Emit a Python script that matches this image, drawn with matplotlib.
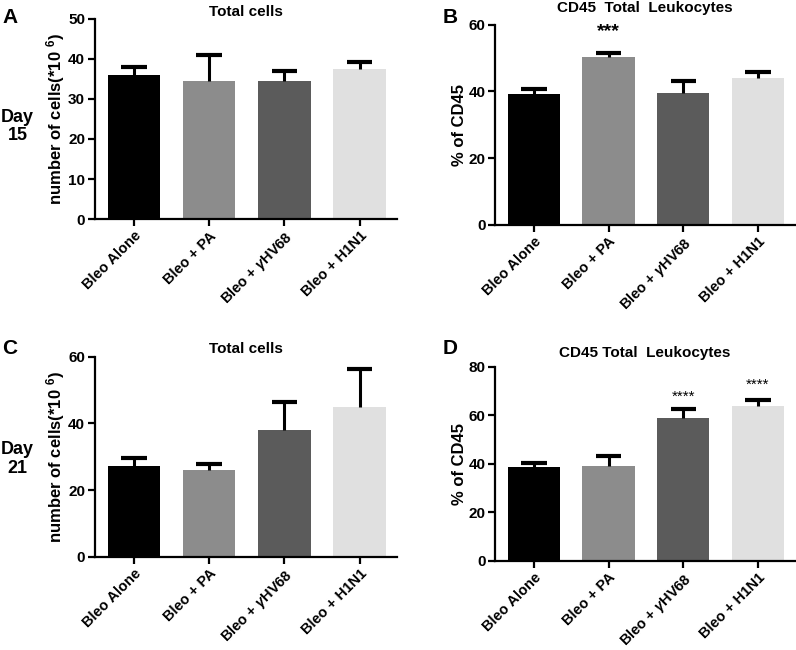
import numpy as np
import matplotlib
matplotlib.use("Agg")
import matplotlib.pyplot as plt

plt.rcParams['font.family'] = ['Liberation Sans', 'DejaVu Sans']
plt.rcParams['font.weight'] = 'bold'
plt.rcParams['mathtext.fontset'] = 'custom'
plt.rcParams['mathtext.rm'] = 'Liberation Sans:bold'
plt.rcParams['mathtext.it'] = 'Liberation Sans:italic'
plt.rcParams['mathtext.bf'] = 'Liberation Sans:bold'

# ---- data ------------------------------------------------------------
groups = ["Bleo Alone", "Bleo + PA", r"Bleo + $\gamma$HV68", "Bleo + H1N1"]
bar_colors = ["#000000", "#8c8c8c", "#5b5b5b", "#e0e0e0"]

day15_cells = [36.0, 34.4, 34.5, 37.5]
day15_cells_err = [2.0, 6.6, 2.5, 1.8]
day15_cd45 = [39.3, 50.4, 39.4, 44.1]
day15_cd45_err = [1.4, 1.2, 3.8, 1.7]

day21_cells = [27.3, 26.0, 38.1, 44.9]
day21_cells_err = [2.4, 1.7, 8.4, 11.6]
day21_cd45 = [38.7, 39.0, 59.0, 63.8]
day21_cd45_err = [1.7, 4.4, 3.4, 2.5]

cells_label = r"number of cells(*10 $^{\mathrm{6}}$)"
cd45_label = "% of CD45"


def panel(rect, vals, errs, ymax, ystep, title, ylabel, title_pad, stars=None):
    ax = fig.add_axes(rect)
    x = np.arange(len(groups))
    vals = np.array(vals)
    tops = vals + np.array(errs)
    ax.bar(x, vals, width=0.7, color=bar_colors, zorder=2)
    # upper-only error bars (no lower cap)
    ax.vlines(x, vals, tops, color="black", lw=2.2, zorder=3)
    ax.hlines(tops, x - 0.17, x + 0.17, color="black", lw=3, zorder=3)
    ax.set_xlim(-0.52, 3.5)
    ax.set_ylim(0, ymax)
    ax.set_yticks(np.arange(0, ymax + 1, ystep))
    ax.set_xticks(x)
    ax.set_xticklabels(groups, rotation=45, ha="right", rotation_mode="anchor",
                       fontsize=10.5, fontweight="bold")
    for lab in ax.get_yticklabels():
        lab.set_fontsize(11)
        lab.set_fontweight("bold")
    for s in ["top", "right"]:
        ax.spines[s].set_visible(False)
    for s in ["left", "bottom"]:
        ax.spines[s].set_linewidth(1.6)
    ax.tick_params(width=1.6, length=5, pad=2)
    ax.set_title(title, fontsize=11, fontweight="bold", pad=title_pad)
    ax.set_ylabel(ylabel, fontsize=12, fontweight="bold", labelpad=1)
    if stars:
        for i, (txt, y, fs) in stars.items():
            ax.text(i, y, txt, ha="center", va="center", fontsize=fs,
                    fontweight="normal" if fs < 12 else "bold")
    return ax


fig = plt.figure(figsize=(7.96, 6.5), dpi=100)

panel([0.119, 0.663, 0.380, 0.308], day15_cells, day15_cells_err, 50, 10,
      "Total cells", cells_label, 2)
panel([0.622, 0.654, 0.377, 0.308], day15_cd45, day15_cd45_err, 60, 20,
      "CD45  Total  Leukocytes", cd45_label, 9,
      stars={1: ("***", 58.0, 14)})
panel([0.119, 0.1435, 0.380, 0.3075], day21_cells, day21_cells_err, 60, 20,
      "Total cells", cells_label, 3)
panel([0.622, 0.137, 0.377, 0.299], day21_cd45, day21_cd45_err, 80, 20,
      "CD45 Total  Leukocytes", cd45_label, 7,
      stars={2: ("****", 67.5, 11), 3: ("****", 72.5, 11)})

# panel letters and row labels
fig.text(0.003, 0.988, "A", fontsize=15, fontweight="bold", va="top")
fig.text(0.556, 0.988, "B", fontsize=15, fontweight="bold", va="top")
fig.text(0.003, 0.478, "C", fontsize=15, fontweight="bold", va="top")
fig.text(0.556, 0.478, "D", fontsize=15, fontweight="bold", va="top")
fig.text(0.022, 0.805, "Day\n15", fontsize=13, fontweight="bold",
         ha="center", va="center", linespacing=1.1)
fig.text(0.022, 0.294, "Day\n21", fontsize=13, fontweight="bold",
         ha="center", va="center", linespacing=1.1)

fig.savefig("out.png", dpi=100)
